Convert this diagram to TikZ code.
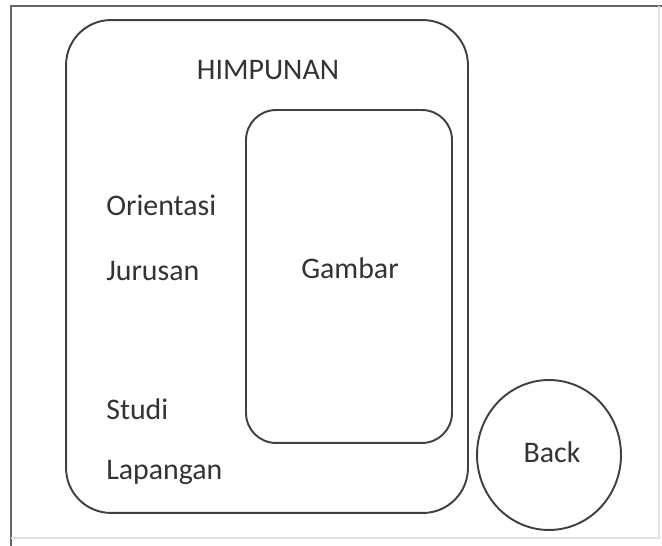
\documentclass[tikz,border=0pt]{standalone}
\usepackage{fontspec}
\setmainfont{Carlito}
\usepackage{tikz}
\usetikzlibrary{positioning,shapes.geometric}

\begin{document}
\begin{tikzpicture}[
    x=0.02cm,y=-0.02cm,
    font=\fontsize{17}{19}\selectfont,
    label/.style={text=black!80,inner sep=0pt},
    item/.style={label,anchor=west},
    panel/.style={draw=black!75,line width=1.1pt,rounded corners=0.9cm,minimum width=8.04cm,minimum height=9.86cm},
    imgbox/.style={draw=black!75,line width=1.1pt,rounded corners=0.6cm,minimum width=4.12cm,minimum height=6.66cm},
    backbtn/.style={ellipse,draw=black!75,line width=1.1pt,minimum width=2.88cm,minimum height=3.0cm,inner sep=0pt}
  ]
    \useasboundingbox (0,0) rectangle (662,546);
    % page frame
    \draw[black!60,line width=1.2pt] (11,546) -- (11,6) -- (662,6);
    \draw[black!12,line width=0.6pt] (659,6) -- (659,538) -- (11,538);

    \node[panel] (menu) at (267,266.5) {};
    \node[imgbox] (gambar) at (349,276.5) {};
    \node[backbtn] (back) at (549,455) {};

    \node[label] (title) at (268,70) {HIMPUNAN};
    \node[label] (gbr) at (350,268) {Gambar};
    \node[label] (back text) at (552,452) {Back};

    \node[item] (orientasi) at (106,205) {Orientasi};
    \node[item,below=1.33cm of orientasi.west,anchor=west] (jurusan) {Jurusan};
    \node[item] (studi) at (106,409) {Studi};
    \node[item,below=1.26cm of studi.west,anchor=west] (lapangan) {Lapangan};
  \end{tikzpicture}
\end{document}
